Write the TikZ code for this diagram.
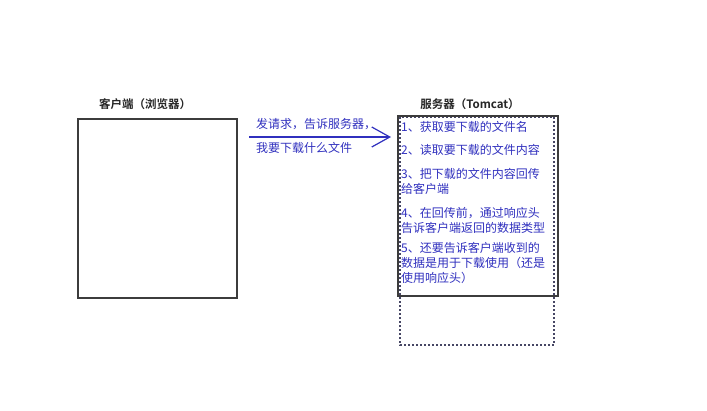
\documentclass[tikz,border=0pt]{standalone}
\usepackage{fontspec}
\newfontfamily\cjk{Noto Sans CJK SC}
\newfontfamily\cjkbold{Noto Sans CJK SC Bold}
\usetikzlibrary{arrows.meta}
\definecolor{pen}{RGB}{48,48,190}
\definecolor{boxline}{RGB}{60,60,60}
\definecolor{dashline}{RGB}{70,70,100}
\tikzset{
  boxstyle/.style={draw=boxline, line width=1.3pt},
  dashbox/.style={draw=dashline, line width=1.2pt, dash pattern=on 2pt off 2pt},
  title/.style={font=\cjkbold\fontsize{11.5}{13}\selectfont, text=black!85, inner sep=0pt},
  note/.style={font=\cjk\fontsize{12}{15}\selectfont, text=pen, inner sep=0pt, align=left, anchor=west},
  reqarrow/.style={draw=pen, line width=1.2pt, -{Straight Barb[length=18pt, width=20pt, line width=1.2pt]}}
}
\begin{document}
\begin{tikzpicture}[x=1pt, y=-1pt]
\useasboundingbox (0,0) rectangle (707,410);
% client
\node[title] (clientlabel) at (145,104) {客户端（浏览器）};
\draw[boxstyle] (78,119) rectangle (237,298);
% server boxes
\draw[dashbox] (400,117) rectangle (554,345);
\draw[boxstyle] (398,116) rectangle (558,296);
\node[title] (serverlabel) at (470,104) {服务器（Tomcat）};
% arrow
\coordinate (a1) at (249,137);
\coordinate (a2) at (391,137);
\draw[reqarrow] (a1) -- (a2);
\node[note] (req1) at (256,124) {发请求，告诉服务器，};
\node[note] (req2) at (256,148) {我要下载什么文件};
% server steps
\node[note] (s1) at (401,127) {1、获取要下载的文件名};
\node[note] (s2) at (401,150) {2、读取要下载的文件内容};
\node[note] (s3a) at (401,174) {3、把下载的文件内容回传};
\node[note] (s3b) at (401,189) {给客户端};
\node[note] (s4a) at (401,213) {4、在回传前，通过响应头};
\node[note] (s4b) at (401,228) {告诉客户端返回的数据类型};
\node[note] (s5a) at (401,248) {5、还要告诉客户端收到的};
\node[note] (s5b) at (401,263) {数据是用于下载使用（还是};
\node[note] (s5c) at (401,278) {使用响应头）};
\end{tikzpicture}
\end{document}
